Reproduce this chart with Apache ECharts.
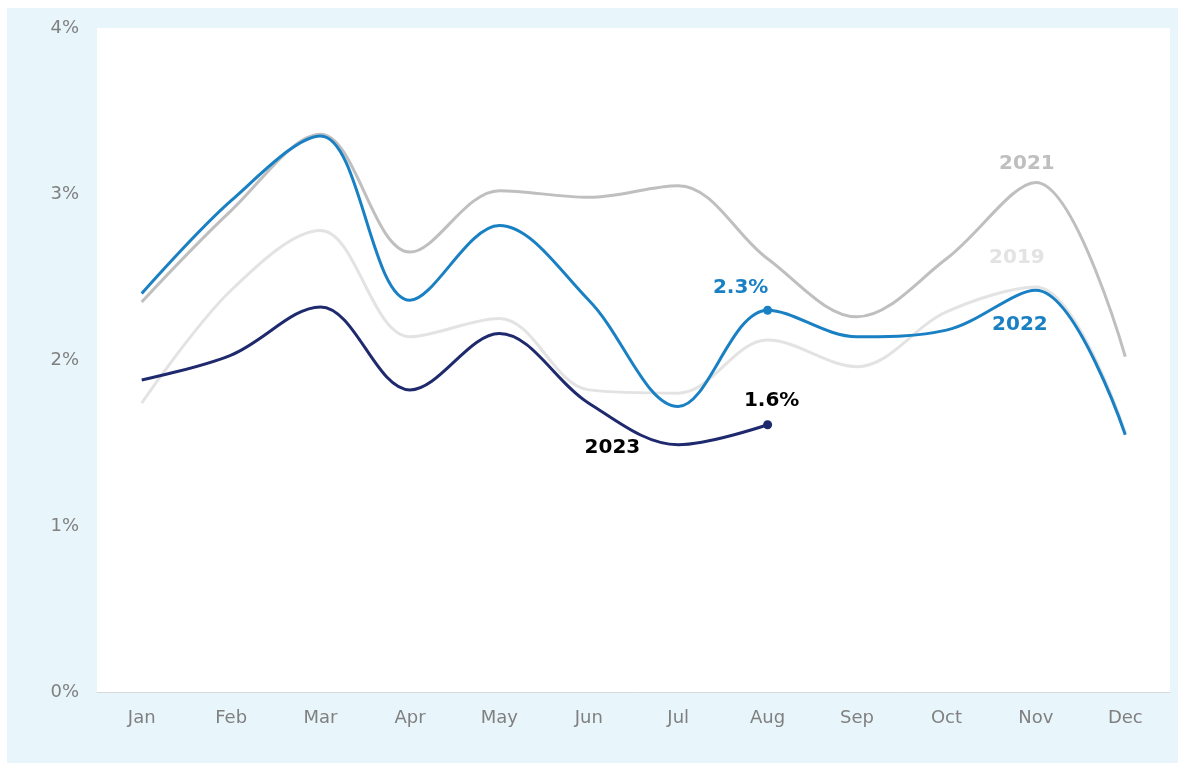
<!DOCTYPE html>
<html>
<head>
<meta charset="utf-8">
<script src="https://cdn.jsdelivr.net/npm/echarts@6/dist/echarts.min.js"></script>
<style>
  html, body { margin: 0; padding: 0; background: #ffffff; }
  #main { position: absolute; left: 7px; top: 8px; width: 1171px; height: 755px; }
</style>
</head>
<body>
<div id="main"></div>
<script>
// months on the x axis
var months = ['Jan', 'Feb', 'Mar', 'Apr', 'May', 'Jun', 'Jul', 'Aug', 'Sep', 'Oct', 'Nov', 'Dec'];
var yTicks = [0, 1, 2, 3, 4];

// monthly values, in percent
var y2019 = [1.74, 2.42, 2.78, 2.14, 2.25, 1.82, 1.80, 2.12, 1.96, 2.29, 2.44, 1.56];
var y2021 = [2.35, 2.90, 3.36, 2.65, 3.02, 2.98, 3.05, 2.61, 2.26, 2.61, 3.07, 2.02];
var y2022 = [2.40, 2.96, 3.35, 2.36, 2.81, 2.36, 1.72, 2.30, 2.14, 2.18, 2.42, 1.55];
var y2023 = [1.88, 2.03, 2.32, 1.82, 2.16, 1.74, 1.49, 1.61];

var chart = echarts.init(document.getElementById('main'));

var font = 'DejaVu Sans, Verdana, sans-serif';

// turn a value list into data items, with a label / dot on some months
function build(values, extras) {
    return values.map(function (v, i) {
        var item = { value: v };
        if (extras[i]) {
            for (var k in extras[i]) item[k] = extras[i][k];
        }
        return item;
    });
}

function nameLabel(text, color, pos, offset) {
    return {
        show: true,
        position: pos,
        offset: offset || [0, 0],
        formatter: text,
        color: color,
        fontFamily: font,
        fontWeight: 'bold',
        fontSize: 20
    };
}

function lineSeries(name, color, data) {
    return {
        name: name,
        type: 'line',
        smooth: 0.35,
        symbol: 'circle',
        symbolSize: 0,
        showSymbol: true,
        lineStyle: { color: color, width: 3 },
        itemStyle: { color: color },
        label: { show: false },
        data: data
    };
}

chart.setOption({
    backgroundColor: '#e8f5fb',
    animation: false,
    grid: {
        left: 90,
        top: 20,
        right: 8,
        bottom: 71,
        show: true,
        backgroundColor: '#ffffff',
        borderWidth: 0
    },
    xAxis: {
        type: 'category',
        data: months,
        boundaryGap: true,
        axisLine: { lineStyle: { color: '#d9d9d9', width: 1 } },
        axisTick: { show: false },
        axisLabel: { color: '#808080', fontFamily: font, fontSize: 18, margin: 17 },
        splitLine: { show: false }
    },
    yAxis: {
        type: 'value',
        min: yTicks[0],
        max: yTicks[yTicks.length - 1],
        interval: 1,
        axisLine: { show: false },
        axisTick: { show: false },
        splitLine: { show: false },
        axisLabel: {
            color: '#808080', fontFamily: font, fontSize: 18, margin: 18,
            formatter: function (v) { return v + '%'; }
        }
    },
    series: [
        lineSeries('2019', '#e3e3e3', build(y2019, {
            10: { label: nameLabel('2019', '#e3e3e3', 'top', [-19, -14]) }
        })),
        lineSeries('2021', '#bfbfbf', build(y2021, {
            10: { label: nameLabel('2021', '#bfbfbf', 'top', [-9, -4]) }
        })),
        lineSeries('2022', '#1a80c4', build(y2022, {
            7: { symbolSize: 9, label: nameLabel('2.3%', '#1a80c4', 'top', [-27, -3]) },
            10: { label: nameLabel('2022', '#1a80c4', 'bottom', [-16, 20]) }
        })),
        lineSeries('2023', '#1f2a6e', build(y2023, {
            6: { label: nameLabel('2023', '#000000', 'left', [-33, 3]) },
            7: { symbolSize: 9, label: nameLabel('1.6%', '#000000', 'top', [4, -4]) }
        }))
    ]
});
</script>
</body>
</html>
